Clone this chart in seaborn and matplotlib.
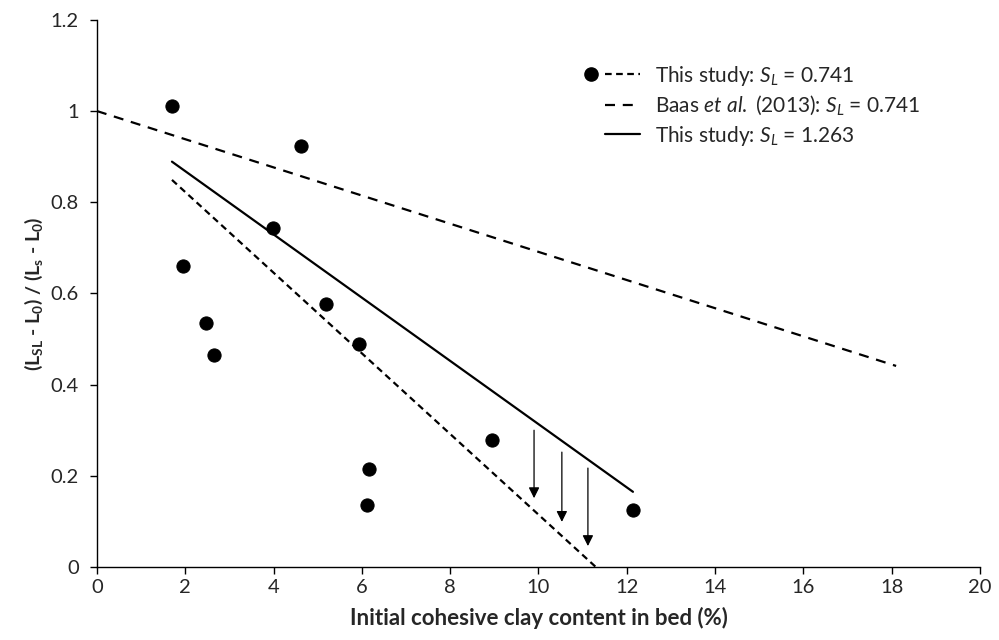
import numpy as np
import pandas as pd
import matplotlib
matplotlib.use("Agg")
import matplotlib.pyplot as plt
import seaborn as sns
from matplotlib.lines import Line2D

# 实测数据点
clay_pct = [1.70, 1.95, 2.47, 2.65, 3.99, 4.62, 5.19, 5.93, 6.16, 6.12, 8.95, 12.14]
norm_len = [1.011, 0.660, 0.535, 0.465, 0.744, 0.924, 0.577, 0.489, 0.215, 0.136, 0.279, 0.125]

# 拟合线端点
fit741_x = [1.70, 11.30]
fit741_y = [0.849, 0.0]
baas_x = [0.0, 18.1]
baas_y = [1.0, 0.441]
fit1263_x = [1.70, 12.14]
fit1263_y = [0.889, 0.165]

# 箭头
arrow_x = [9.90, 10.53, 11.12]
arrow_top = [0.300, 0.252, 0.217]
arrow_tip = [0.151, 0.099, 0.046]


# 图例: 左边一个圆点, 后面接虚线
class MarkerLineHandler:
    def legend_artist(self, legend, orig_handle, fontsize, handlebox):
        x0, y0 = handlebox.xdescent, handlebox.ydescent
        w, h = handlebox.width, handlebox.height
        line = Line2D([x0, x0 + w], [y0 + h / 2] * 2, color="black", lw=1.6, dashes=(3, 2))
        dot = Line2D([x0 - 10], [y0 + h / 2], marker="o", markersize=9.5, color="black", lw=0)
        handlebox.add_artist(line)
        handlebox.add_artist(dot)
        return line


sns.set_style("ticks")
plt.rcParams['font.family'] = ['Lato', 'DejaVu Sans']
plt.rcParams['mathtext.fontset'] = 'custom'
plt.rcParams['mathtext.rm'] = 'Lato'
plt.rcParams['mathtext.it'] = 'Lato:italic'
plt.rcParams['mathtext.bf'] = 'Lato:bold'

fig = plt.figure(figsize=(9.99, 6.4), dpi=100)
ax = fig.add_axes([0.097, 0.114, 0.884, 0.855])

pts = pd.DataFrame({"x": clay_pct, "y": norm_len})
sns.scatterplot(data=pts, x="x", y="y", s=90, color="black", edgecolor="black", ax=ax, zorder=3)

l1, = ax.plot(fit741_x, fit741_y, color="black", lw=1.6, dashes=(3, 2))
l2, = ax.plot(baas_x, baas_y, color="black", lw=1.6, dashes=(4.5, 3.5))
l3, = ax.plot(fit1263_x, fit1263_y, color="black", lw=1.6)

for xa, y0, y1 in zip(arrow_x, arrow_top, arrow_tip):
    ax.annotate("", xy=(xa, y1), xytext=(xa, y0),
                arrowprops=dict(arrowstyle="-|>", color="black", lw=0.9,
                                mutation_scale=16, shrinkA=0, shrinkB=0))

ax.set_xlim(0, 20)
ax.set_ylim(0, 1.2)
ax.set_xticks(np.arange(0, 21, 2))
ax.set_yticks([0, 0.2, 0.4, 0.6, 0.8, 1.0, 1.2])
ax.set_yticklabels(["0", "0.2", "0.4", "0.6", "0.8", "1", "1.2"])
ax.tick_params(labelsize=14.5, length=5, width=1, color="black", direction="out")
ax.tick_params(axis="y", pad=8)
sns.despine(ax=ax)
for s in ["left", "bottom"]:
    ax.spines[s].set_color("black")
    ax.spines[s].set_linewidth(1)

ax.set_xlabel("Initial cohesive clay content in bed (%)", fontsize=16, fontweight="bold", labelpad=8)
ax.set_ylabel(r"(L$_\mathbf{SL}$ - L$_\mathbf{0}$) / (L$_\mathbf{s}$ - L$_\mathbf{0}$)",
              fontsize=14, fontweight="bold", labelpad=4)

ax.legend([l1, l2, l3],
          [r"This study: $S_L$ = 0.741",
           r"Baas $et$ $al.$ (2013): $S_L$ = 0.741",
           r"This study: $S_L$ = 1.263"],
          handler_map={l1: MarkerLineHandler()},
          loc="upper left", bbox_to_anchor=(0.575, 0.92), frameon=False,
          borderpad=0, borderaxespad=0,
          fontsize=15, handlelength=1.7, handletextpad=0.7, labelspacing=0.3)

fig.savefig("out.png", dpi=100)
